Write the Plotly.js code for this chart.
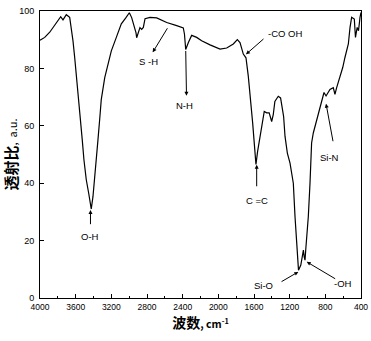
<!DOCTYPE html>
<html>
<head>
<meta charset="utf-8">
<script src="https://cdn.plot.ly/plotly-3.0.1.min.js"></script>
<style>html,body{margin:0;padding:0;background:#fff;}#chart{width:371px;height:341px;}</style>
</head>
<body>
<div id="chart"></div>
<script>
// Wavenumber (cm-1) and transmittance (a.u.)
const wavenumber = [4000,3947,3891,3854,3817,3790,3768,3742,3705,3667,3649,3630,3611,3593,3574,3563,3544,3526,3507,3481,3454,3436,3425,3406,3387,3369,3350,3331,3313,3274,3237,3200,3144,3088,3040,2998,2972,2946,2923,2916,2897,2879,2860,2841,2822,2766,2691,2579,2467,2393,2380,2366,2336,2299,2243,2187,2093,1981,1906,1832,1787,1757,1720,1701,1690,1664,1645,1630,1615,1600,1585,1578,1560,1540,1513,1485,1458,1430,1402,1384,1366,1328,1302,1268,1252,1226,1196,1159,1140,1122,1110,1101,1075,1054,1046,1037,1028,1020,991,972,965,954,935,897,841,815,792,748,711,692,673,636,605,580,542,523,505,475,462,443,428,411,400];
const transmittance = [89.8,90.8,92.6,94.3,96.0,97.2,98.0,96.9,98.7,97.8,94.3,89.6,83.8,78.0,73.3,67.5,62.1,55.1,48.1,41.2,36.5,33.0,31.0,35.3,41.2,48.1,55.1,62.1,69.1,76.8,81.5,86.1,90.8,95.5,97.5,99.4,97.7,95.3,92.4,90.7,93.0,94.2,93.6,94.3,97.3,97.8,97.6,96.0,94.9,94.1,92.0,86.6,89.0,91.5,90.8,89.6,88.2,86.7,87.1,88.5,90.0,89.0,85.0,84.2,83.7,77.3,71.5,66.8,61.0,55.1,48.7,46.5,51.0,55.1,59.8,65.0,64.5,64.5,61.5,63.9,68.5,70.3,69.7,63.3,56.3,50.5,47.0,40.0,28.3,19.0,12.0,9.7,11.5,15.5,16.7,14.3,13.2,16.7,28.3,40.0,48.1,54.0,57.5,62.0,68.7,71.6,70.4,72.7,73.3,71.0,73.3,76.8,80.3,83.8,88.5,94.3,97.8,97.2,90.8,94.3,93.1,97.8,99.5];

const xTickVals = [4000,3600,3200,2800,2400,2000,1600,1200,800,400];
const xTickText = ["4000","3600","3200","2800","2400","2000","1600","1200","800","400"];
const yTickVals = [0,20,40,60,80,100];
const yTickText = ["0","20","40","60","80","100"];

// Band labels: text, label position, arrow tip, arrow tail
const bandLabels = ["O-H","S -H","N-H","-CO OH","C =C","Si-O","-OH","Si-N"];
const labelX = [3440,2778,2374,1252,1570,1496,598,748];
const labelY = [21.6,82.4,67,92.1,33.9,4.2,5.0,49.1];
const tipX = [3434,2736,2357,1690,1570,1103,1009,792];
const tipY = [30.7,85.6,70.5,84.9,46.4,9.1,12.6,67.7];
const tailX = [3434,2561,2366,1477,1570,1308,673,711];
const tailY = [25.2,94.5,86.6,90.7,38.4,5.4,6.4,54.1];

const annotations = [];
bandLabels.forEach((t,i)=>{
  annotations.push({x:labelX[i], y:labelY[i], xref:'x', yref:'y', text:t, showarrow:false,
    font:{family:'Liberation Sans, Arial, sans-serif', size:9.5, color:'#000'}});
  annotations.push({x:tipX[i], y:tipY[i], xref:'x', yref:'y', ax:tailX[i], ay:tailY[i],
    axref:'x', ayref:'y', text:'', showarrow:true, arrowhead:2, arrowsize:0.8, arrowwidth:1, arrowcolor:'#000', standoff:0, startstandoff:0});
});

const trace = {x: wavenumber, y: transmittance, type:'scatter', mode:'lines',
  line:{color:'#000', width:1.2}, hoverinfo:'skip'};

const layout = {
  width:371, height:341,
  margin:{l:40, r:10, t:11, b:43},
  paper_bgcolor:'#fff', plot_bgcolor:'#fff',
  showlegend:false,
  font:{family:'Liberation Sans, Arial, sans-serif', color:'#000'},
  xaxis:{range:[4000,400], tickvals:xTickVals, ticktext:xTickText, ticks:'inside', ticklen:4, tickwidth:1, tickcolor:'#000',
    minor:{dtick:200, tick0:0, ticks:'inside', ticklen:2, tickcolor:'#000'},
    showline:true, mirror:true, linecolor:'#000', linewidth:1, showgrid:false, zeroline:false,
    ticklabelstandoff:1,
    tickfont:{size:8.5, family:'Liberation Sans, Arial, sans-serif'},
    title:{text:"<b>波数</b><b style='font-size:10.5px'>, cm<sup>-1</sup></b>", font:{size:14, family:'Noto Sans CJK SC, Liberation Sans, sans-serif'}, standoff:6}},
  yaxis:{range:[0,100], tickvals:yTickVals, ticktext:yTickText, ticks:'inside', ticklen:4, tickwidth:1, tickcolor:'#000',
    showline:true, mirror:true, linecolor:'#000', linewidth:1, showgrid:false, zeroline:false,
    ticklabelstandoff:3,
    tickfont:{size:9, family:'Liberation Sans, Arial, sans-serif'},
    title:{text:"<b>透射比</b><span style='font-size:11px'>,  a.u.</span>", font:{size:15, family:'Noto Sans CJK SC, Liberation Sans, sans-serif'}, standoff:1}},
  annotations: annotations
};

Plotly.newPlot('chart', [trace], layout, {displayModeBar:false, staticPlot:true});
</script>
</body>
</html>
